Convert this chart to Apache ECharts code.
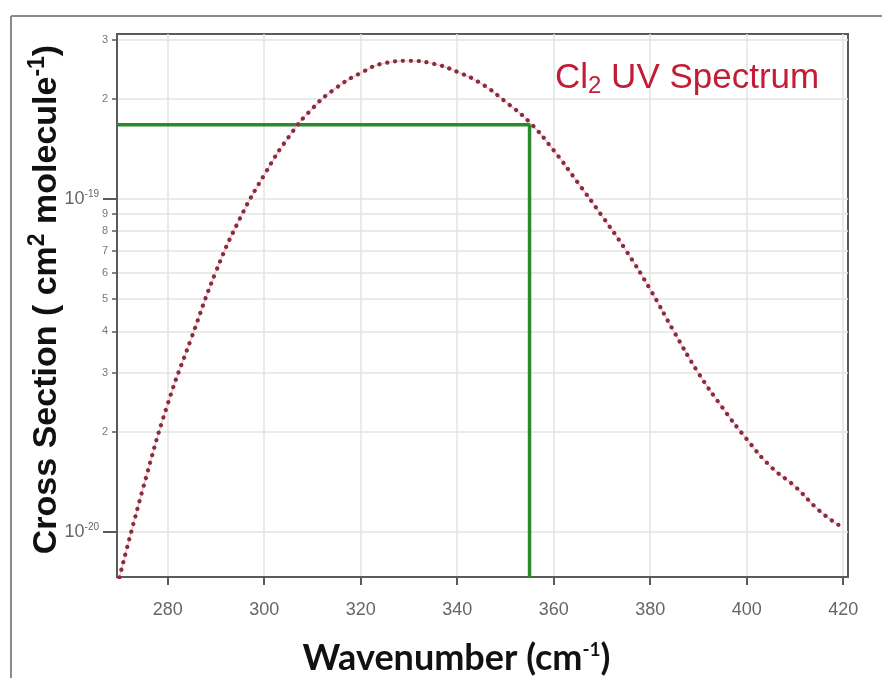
<!DOCTYPE html>
<html>
<head>
<meta charset="utf-8">
<script src="https://cdn.jsdelivr.net/npm/echarts@6/dist/echarts.min.js"></script>
<style>
  html, body { margin: 0; padding: 0; background: #fff; }
  #chart { width: 882px; height: 678px; }
</style>
</head>
<body>
<div id="chart"></div>
<script>
// Cl2 absorption cross section vs. wavelength axis value
const wavelength = [270, 275, 280, 285, 290, 295, 300, 305, 310, 315, 320, 325, 330, 335,
  340, 345, 350, 355, 360, 365, 370, 375, 380, 385, 390, 395, 400, 405, 410, 415, 419];
const crossSection = [7.3e-21, 1.37e-20, 2.42e-20, 3.85e-20, 6.05e-20, 8.75e-20, 1.18e-19,
  1.53e-19, 1.87e-19, 2.16e-19, 2.39e-19, 2.56e-19, 2.60e-19, 2.55e-19, 2.41e-19, 2.22e-19,
  1.96e-19, 1.70e-19, 1.40e-19, 1.12e-19, 8.9e-20, 7.0e-20, 5.35e-20, 3.98e-20, 3.0e-20,
  2.36e-20, 1.9e-20, 1.57e-20, 1.37e-20, 1.16e-20, 1.05e-20];

// reading guide (green)
const guideX = 355;
const guideY = 1.67e-19;

// axis ranges and ticks
const xMin = 269.5, xMax = 421;
const yMin = 7.32e-21, yMax = 3.13e-19;
const xTicks = [280, 300, 320, 340, 360, 380, 400, 420];
const decadeTicks = [1e-20, 1e-19];
const minorTicks = [8e-21, 9e-21, 2e-20, 3e-20, 4e-20, 5e-20, 6e-20, 7e-20, 8e-20, 9e-20, 2e-19, 3e-19];

const axisGray = '#5a5a5a';
const labelGray = '#666';
const gridGray = '#e3e3e3';

const chart = echarts.init(document.getElementById('chart'), null, { renderer: 'canvas' });

const sup = { fontSize: 10, verticalAlign: 'top', padding: [0, 0, 9, 0], color: labelGray, fontFamily: 'Liberation Sans' };

chart.setOption({
  backgroundColor: '#fff',
  animation: false,
  title: {
    text: 'Cl{sub|2} UV Spectrum',
    left: 550,
    top: 53,
    textStyle: {
      fontFamily: 'Liberation Sans',
      fontSize: 35,
      fontWeight: 'normal',
      color: '#c21d36',
      rich: {
        sub: { fontSize: 24, color: '#c21d36', fontFamily: 'Liberation Sans', padding: [16, 0, 0, 0] }
      }
    }
  },
  grid: {
    left: 117, right: 34, top: 34, bottom: 101,
    outerBoundsMode: 'none',
    containLabel: false,
    show: true, borderColor: axisGray, borderWidth: 2, backgroundColor: 'transparent'
  },
  xAxis: {
    type: 'value',
    min: xMin, max: xMax,
    name: 'Wavenumber (cm{s|-1})',
    nameLocation: 'middle',
    nameGap: 63,
    nameMoveOverlap: false,
    nameTextStyle: {
      fontFamily: 'Lato', fontWeight: 'bold', fontSize: 36, color: '#111',
      padding: [0, 52, 0, 0],
      rich: { s: { fontFamily: 'Lato', fontSize: 19, color: '#111', verticalAlign: 'top', padding: [0, 0, 16, 0] } }
    },
    axisLine: { show: true, lineStyle: { color: axisGray, width: 2 } },
    axisTick: { show: true, customValues: xTicks, length: 8, lineStyle: { color: axisGray, width: 2 } },
    axisLabel: { customValues: xTicks, margin: 24, fontFamily: 'Liberation Sans', fontSize: 18, color: labelGray },
    splitLine: { show: true, lineStyle: { color: gridGray, width: 1.5 } }
  },
  yAxis: [
    {
      type: 'log', logBase: 10,
      position: 'left',
      min: yMin, max: yMax,
      name: 'Cross Section ( cm{s|2} molecule{s|-1})',
      nameLocation: 'middle',
      nameRotate: 90,
      nameGap: 50,
      nameMoveOverlap: false,
      nameTextStyle: {
        fontFamily: 'Liberation Sans', fontWeight: 'bold', fontSize: 34, color: '#111',
        padding: [0, 0, 0, 12],
        rich: { s: { fontFamily: 'Liberation Sans', fontWeight: 'bold', fontSize: 23, color: '#111', verticalAlign: 'top', padding: [0, 0, 18, 0] } }
      },
      axisLine: { show: true, lineStyle: { color: axisGray, width: 2 } },
      axisTick: { show: true, customValues: decadeTicks, length: 14, lineStyle: { color: axisGray, width: 2 } },
      axisLabel: {
        customValues: decadeTicks, margin: 18,
        fontFamily: 'Liberation Sans', fontSize: 18, color: labelGray,
        formatter: v => '10{sup|' + Math.round(Math.log10(v)) + '}',
        rich: { sup: sup }
      },
      splitLine: { show: true, lineStyle: { color: gridGray, width: 1.5 } }
    },
    {
      type: 'log', logBase: 10,
      position: 'left',
      offset: 0,
      min: yMin, max: yMax,
      axisLine: { show: false },
      axisTick: { show: true, customValues: minorTicks, length: 5, lineStyle: { color: axisGray, width: 1.5 } },
      axisLabel: {
        customValues: minorTicks, margin: 9,
        fontFamily: 'Liberation Sans', fontSize: 11, color: '#777',
        formatter: v => String(Math.round(v / Math.pow(10, Math.floor(Math.log10(v) + 1e-9))))
      },
      splitLine: { show: true, lineStyle: { color: gridGray, width: 1.5 } }
    }
  ],
  graphic: [
    // outer frame edges
    { type: 'line', shape: { x1: 11, y1: 16, x2: 882, y2: 16 }, style: { stroke: '#8a8a8a', lineWidth: 2 }, z: 100 },
    { type: 'line', shape: { x1: 11, y1: 16, x2: 11, y2: 678 }, style: { stroke: '#8a8a8a', lineWidth: 2 }, z: 100 }
  ],
  series: [
    {
      type: 'line',
      yAxisIndex: 0,
      data: [[xMin, guideY], [guideX, guideY], [guideX, yMin]],
      showSymbol: false,
      lineStyle: { color: '#2b8a2b', width: 3.5 },
      z: 3
    },
    {
      type: 'line',
      yAxisIndex: 0,
      data: wavelength.map((w, i) => [w, crossSection[i]]),
      smooth: true,
      showSymbol: false,
      lineStyle: { color: '#f2c0c6', width: 1.2 },
      z: 4
    },
    {
      type: 'line',
      yAxisIndex: 0,
      data: wavelength.map((w, i) => [w, crossSection[i]]),
      smooth: true,
      showSymbol: false,
      lineStyle: { color: '#8a2c40', width: 4.2, type: [0.1, 7.8], cap: 'round' },
      z: 5
    }
  ]
});
</script>
</body>
</html>
